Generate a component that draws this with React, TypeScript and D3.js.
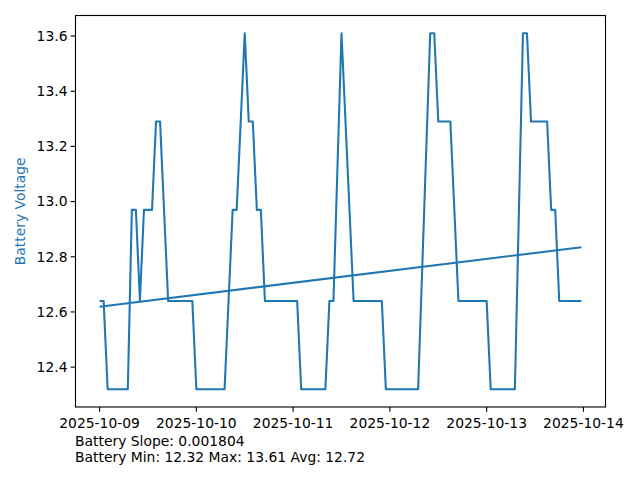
import React from "react";
import * as d3 from "d3";

// hours since 2025-10-09 00:00
const hours = [0, 1, 2, 7, 8, 9, 10, 11, 13, 14, 15, 17, 23, 24, 31, 33, 34, 36, 37, 38, 39, 40, 41, 49, 50, 56, 57, 58, 60, 63, 70, 71, 79, 82, 83, 84, 87, 89, 96, 97, 103, 105, 106, 107, 111, 112, 113, 114, 119.5];
const voltage = [12.64, 12.64, 12.32, 12.32, 12.97, 12.97, 12.64, 12.97, 12.97, 13.29, 13.29, 12.64, 12.64, 12.32, 12.32, 12.97, 12.97, 13.61, 13.29, 13.29, 12.97, 12.97, 12.64, 12.64, 12.32, 12.32, 12.64, 12.64, 13.61, 12.64, 12.64, 12.32, 12.32, 13.61, 13.61, 13.29, 13.29, 12.64, 12.64, 12.32, 12.32, 13.61, 13.61, 13.29, 13.29, 12.97, 12.97, 12.64, 12.64];
const trendStart = 12.619;
const slopePerHour = 0.001804;
const yTicks = [12.4, 12.6, 12.8, 13.0, 13.2, 13.4, 13.6];
const xTickDays = ["2025-10-09", "2025-10-10", "2025-10-11", "2025-10-12", "2025-10-13", "2025-10-14"];
const infoLines = ["Battery Slope: 0.001804", "Battery Min: 12.32 Max: 13.61 Avg: 12.72"];

const BLUE = "#1f77b4";
const FONT = "DejaVu Sans";
const FS = 13.89;

export default function App() {
  const left = 75.5, right = 605.5, top = 15.5, bottom = 407;
  const hMin = d3.min(hours)!, hMax = d3.max(hours)!;
  const hPad = (hMax - hMin) * 0.05;
  const x = d3.scaleLinear().domain([hMin - hPad, hMax + hPad]).range([left, right]);
  const vMin = d3.min(voltage)!, vMax = d3.max(voltage)!;
  const vPad = (vMax - vMin) * 0.05;
  const y = d3.scaleLinear().domain([vMin - vPad, vMax + vPad]).range([bottom, top]);

  const line = d3.line<[number, number]>().x(d => x(d[0])).y(d => y(d[1]));
  const pts: [number, number][] = hours.map((h, i) => [h, voltage[i]]);
  const trend: [number, number][] = [hours[0], hours[hours.length - 1]].map(h => [h, trendStart + slopePerHour * h]);

  return (
    <svg width={640} height={480} style={{ display: "block", position: "absolute", left: 0, top: 0 }}>
      <rect width={640} height={480} fill="white" />
      <path d={line(pts)!} fill="none" stroke={BLUE} strokeWidth={2.08} strokeLinejoin="round" />
      <path d={line(trend)!} fill="none" stroke={BLUE} strokeWidth={2.08} />
      <rect x={left} y={top} width={right - left} height={bottom - top} fill="none" stroke="black" strokeWidth={1.11} />
      {yTicks.map(t => (
        <g key={t} transform={`translate(0,${y(t)})`}>
          <line x1={left} x2={left - 4.86} stroke="black" strokeWidth={1.11} />
          <text x={left - 8} dy="0.35em" textAnchor="end" fontFamily={FONT} fontSize={FS} fill="black">{t.toFixed(1)}</text>
        </g>
      ))}
      {xTickDays.map((d, i) => (
        <g key={d} transform={`translate(${x(i * 24)},0)`}>
          <line y1={bottom} y2={bottom + 4.86} stroke="black" strokeWidth={1.11} />
          <text y={bottom + 21} textAnchor="middle" fontFamily={FONT} fontSize={FS} fill="black">{d}</text>
        </g>
      ))}
      <text transform={`translate(25,${(top + bottom) / 2}) rotate(-90)`} textAnchor="middle" fontFamily={FONT} fontSize={FS} fill={BLUE}>Battery Voltage</text>
      {infoLines.map((s, i) => (
        <text key={i} x={75} y={446 + i * 16} fontFamily={FONT} fontSize={FS} fill="black">{s}</text>
      ))}
    </svg>
  );
}
